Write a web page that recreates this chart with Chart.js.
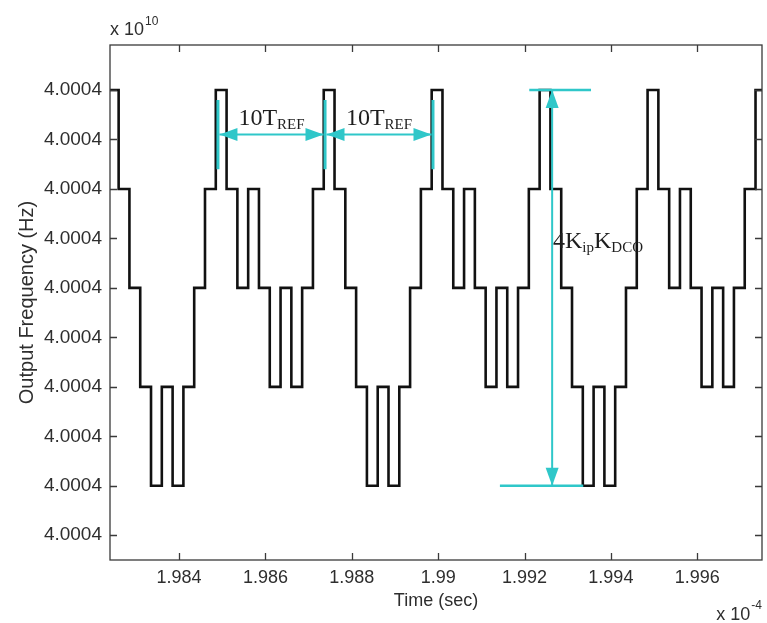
<!DOCTYPE html>
<html><head><meta charset="utf-8">
<script src="https://cdn.jsdelivr.net/npm/chart.js@4"></script>
<style>html,body{margin:0;padding:0;background:#fff;}canvas{display:block;}</style>
</head><body>
<canvas id="c" width="767" height="623"></canvas>
<script>
// Time (x 1e-4 s) at the start of each reference-clock slot (T_REF = 25 ns)
const slotTimes = [
  1.98235,1.98260,1.98285,1.98310,1.98335,1.98360,1.98385,1.98410,1.98435,1.98460,
  1.98485,1.98510,1.98535,1.98560,1.98585,1.98610,1.98635,1.98660,1.98685,1.98710,
  1.98735,1.98760,1.98785,1.98810,1.98835,1.98860,1.98885,1.98910,1.98935,1.98960,
  1.98985,1.99010,1.99035,1.99060,1.99085,1.99110,1.99135,1.99160,1.99185,1.99210,
  1.99235,1.99260,1.99285,1.99310,1.99335,1.99360,1.99385,1.99410,1.99435,1.99460,
  1.99485,1.99510,1.99535,1.99560,1.99585,1.99610,1.99635,1.99660,1.99685,1.99710,
  1.99735,1.99760
];
// Output frequency (x 1e10 Hz) held during each slot
const slotFreq = [
  4.000409,4.000407,4.000405,4.000403,4.000401,4.000403,4.000401,4.000403,4.000405,4.000407,
  4.000409,4.000407,4.000405,4.000407,4.000405,4.000403,4.000405,4.000403,4.000405,4.000407,
  4.000409,4.000407,4.000405,4.000403,4.000401,4.000403,4.000401,4.000403,4.000405,4.000407,
  4.000409,4.000407,4.000405,4.000407,4.000405,4.000403,4.000405,4.000403,4.000405,4.000407,
  4.000409,4.000407,4.000405,4.000403,4.000401,4.000403,4.000401,4.000403,4.000405,4.000407,
  4.000409,4.000407,4.000405,4.000407,4.000405,4.000403,4.000405,4.000403,4.000405,4.000407,
  4.000409,4.000409
];
const xTickValues = [1.984,1.986,1.988,1.990,1.992,1.994,1.996];
const xTickLabels = ['1.984','1.986','1.988','1.99','1.992','1.994','1.996'];
const yTickValues = [4.000400,4.000401,4.000402,4.000403,4.000404,4.000405,4.000406,4.000407,4.000408,4.000409];
const yTickLabels = ['4.0004','4.0004','4.0004','4.0004','4.0004','4.0004','4.0004','4.0004','4.0004','4.0004'];

// Annotation anchors (data units)
const periodMarkTimes = [1.98490, 1.98738, 1.98988];
const periodMarkLow = 4.0004074, periodMarkHigh = 4.0004088;
const periodArrowFreq = 4.0004081;
const periodLabelFreq = 4.0004083;
const swingTime = 1.99264, swingTop = 4.000409, swingBottom = 4.000401;
const swingTopLine = [1.99211, 1.99354], swingBottomLine = [1.99143, 1.99336];
const swingLabelTime = 1.99266, swingLabelFreq = 4.0004058;

const CYAN = '#2fc7c9';
const AXIS = '#3a3a3a';
const TXT = '#2e2e2e';
const SANS = 'Liberation Sans, Arial, sans-serif';
const SERIF = 'Liberation Serif, Times New Roman, serif';

function arrowHead(ctx, x, y, dx, dy, len, hw) {
  ctx.beginPath();
  ctx.moveTo(x, y);
  ctx.lineTo(x - dx*len - dy*hw, y - dy*len + dx*hw);
  ctx.lineTo(x - dx*len + dy*hw, y - dy*len - dx*hw);
  ctx.closePath();
  ctx.fill();
}
function dblArrow(ctx, x1, y1, x2, y2) {
  const L = Math.hypot(x2-x1, y2-y1), dx = (x2-x1)/L, dy = (y2-y1)/L;
  ctx.beginPath(); ctx.moveTo(x1, y1); ctx.lineTo(x2, y2); ctx.stroke();
  arrowHead(ctx, x2, y2, dx, dy, 18, 6.5);
  arrowHead(ctx, x1, y1, -dx, -dy, 18, 6.5);
}
function subText(ctx, parts, x, y) {
  for (const [t, sub] of parts) {
    ctx.font = sub ? '15px ' + SERIF : '24px ' + SERIF;
    ctx.fillText(t, x, sub ? y + 4 : y);
    x += ctx.measureText(t).width;
  }
  return x;
}
function partsWidth(ctx, parts) {
  let w = 0;
  for (const [t, sub] of parts) { ctx.font = sub ? '15px ' + SERIF : '24px ' + SERIF; w += ctx.measureText(t).width; }
  return w;
}

const frame = {
  id: 'frame',
  afterDraw(chart) {
    const {ctx, chartArea: a, scales: {x, y}} = chart;
    ctx.save();
    ctx.strokeStyle = AXIS; ctx.lineWidth = 1.3;
    ctx.strokeRect(a.left, a.top, a.right - a.left, a.bottom - a.top);
    ctx.beginPath();
    for (const v of xTickValues) {
      const px = Math.round(x.getPixelForValue(v)) + 0.5;
      ctx.moveTo(px, a.bottom); ctx.lineTo(px, a.bottom - 7);
      ctx.moveTo(px, a.top); ctx.lineTo(px, a.top + 7);
    }
    for (const v of yTickValues) {
      const py = Math.round(y.getPixelForValue(v)) + 0.5;
      ctx.moveTo(a.left, py); ctx.lineTo(a.left + 7, py);
      ctx.moveTo(a.right, py); ctx.lineTo(a.right - 7, py);
    }
    ctx.stroke();
    // exponent labels
    ctx.fillStyle = TXT; ctx.textBaseline = 'alphabetic'; ctx.textAlign = 'left';
    ctx.font = '18px ' + SANS;
    ctx.fillText('x 10', a.left, a.top - 10);
    let w = ctx.measureText('x 10').width;
    ctx.font = '12px ' + SANS;
    ctx.fillText('10', a.left + w + 1, a.top - 20);
    ctx.font = '18px ' + SANS;
    const bw = ctx.measureText('x 10').width;
    ctx.font = '12px ' + SANS;
    const sw = ctx.measureText('-4').width;
    const bx = a.right - bw - sw - 1;
    ctx.font = '18px ' + SANS;
    ctx.fillText('x 10', bx, 620);
    ctx.font = '12px ' + SANS;
    ctx.fillText('-4', bx + bw + 1, 609);

    // annotations
    ctx.strokeStyle = CYAN; ctx.fillStyle = CYAN;
    ctx.lineWidth = 3;
    const ml = y.getPixelForValue(periodMarkLow), mh = y.getPixelForValue(periodMarkHigh);
    const mx = periodMarkTimes.map(t => x.getPixelForValue(t));
    ctx.beginPath();
    for (const px of mx) { ctx.moveTo(px, mh); ctx.lineTo(px, ml); }
    ctx.stroke();
    ctx.lineWidth = 2;
    const ay = y.getPixelForValue(periodArrowFreq);
    for (let i = 0; i < mx.length - 1; i++) dblArrow(ctx, mx[i] + 1.5, ay, mx[i+1] - 1.5, ay);
    const sx = x.getPixelForValue(swingTime);
    const st = y.getPixelForValue(swingTop), sb = y.getPixelForValue(swingBottom);
    ctx.lineWidth = 2.5;
    ctx.beginPath();
    ctx.moveTo(x.getPixelForValue(swingTopLine[0]), st); ctx.lineTo(x.getPixelForValue(swingTopLine[1]), st);
    ctx.moveTo(x.getPixelForValue(swingBottomLine[0]), sb); ctx.lineTo(x.getPixelForValue(swingBottomLine[1]), sb);
    ctx.stroke();
    ctx.lineWidth = 2;
    dblArrow(ctx, sx, st, sx, sb);

    ctx.fillStyle = '#1e1e1e';
    const ly = y.getPixelForValue(periodLabelFreq);
    const lbl = [['10T', false], ['REF', true]];
    const lw = partsWidth(ctx, lbl);
    for (let i = 0; i < mx.length - 1; i++) subText(ctx, lbl, (mx[i] + mx[i+1]) / 2 - lw / 2, ly);
    subText(ctx, [['4K', false], ['ip', true], ['K', false], ['DCO', true]],
      x.getPixelForValue(swingLabelTime), y.getPixelForValue(swingLabelFreq));
    ctx.restore();
  }
};

const points = slotTimes.map((t, i) => ({x: t, y: slotFreq[i]}));

new Chart(document.getElementById('c'), {
  type: 'line',
  data: { datasets: [{
    data: points, stepped: 'before', borderColor: '#111111', borderWidth: 2.6,
    pointRadius: 0, fill: false, tension: 0, borderJoinStyle: 'miter'
  }]},
  options: {
    responsive: false, animation: false, devicePixelRatio: 1,
    layout: { padding: { top: 45, right: 5, left: 0, bottom: 0 } },
    plugins: { legend: { display: false }, tooltip: { enabled: false } },
    scales: {
      x: {
        type: 'linear', min: 1.9824, max: 1.9975,
        afterBuildTicks: s => { s.ticks = xTickValues.map(v => ({value: v})); },
        afterFit: s => { s.height = 63; },
        grid: { display: false, drawTicks: false },
        border: { display: false },
        ticks: { callback: (v, i) => xTickLabels[i], color: TXT, font: { family: SANS, size: 18 }, padding: 7, maxRotation: 0, autoSkip: false },
        title: { display: true, text: 'Time (sec)', color: TXT, font: { family: SANS, size: 18 }, padding: { top: 0, bottom: 11 } }
      },
      y: {
        type: 'linear', min: 4.0003995, max: 4.00040991,
        afterBuildTicks: s => { s.ticks = yTickValues.map(v => ({value: v})); },
        afterFit: s => { s.width = 110; },
        grid: { display: false, drawTicks: false },
        border: { display: false },
        ticks: { callback: (v, i) => yTickLabels[i], color: TXT, font: { family: SANS, size: 19 }, padding: 8, autoSkip: false },
        title: { display: true, text: 'Output Frequency (Hz)', color: TXT, font: { family: SANS, size: 20 }, padding: { top: 15, bottom: 0 } }
      }
    }
  },
  plugins: [frame]
});
</script>
</body></html>
